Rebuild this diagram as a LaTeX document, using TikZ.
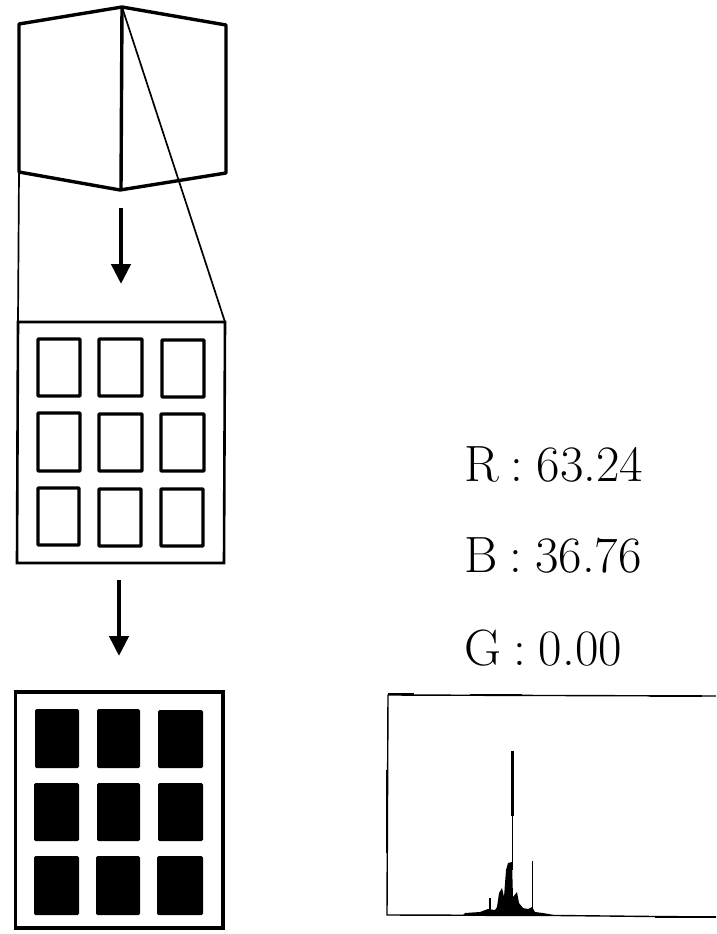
\documentclass[tikz,border=0pt]{standalone}
\usepackage{fontspec}
\usetikzlibrary{arrows.meta}
\tikzset{
  x=1pt,y=-1pt,
  heavy/.style={draw=black,line width=3.4pt,line join=round},
  thin edge/.style={draw=black,line width=1.7pt},
  frame/.style={draw=black,line width=2.6pt},
  cell/.style={draw=black,line width=3.4pt,rounded corners=0.8pt},
  solid cell/.style={fill=black,rounded corners=1.5pt},
  flow/.style={draw=black,line width=4.6pt,-{Triangle[length=20pt,width=19pt]}},
  readout/.style={anchor=base west,inner sep=0pt,font=\fontsize{51}{51}\selectfont},
  hist line/.style={draw=black,line width=1.4pt},
}
\newcommand{\readoutsep}{\hspace{12pt}:\hspace{13pt}}
\begin{document}
\begin{tikzpicture}
\useasboundingbox (0,0) rectangle (716,934);
\fill[white] (0,0) rectangle (716,934);
% block
\coordinate (apex) at (122,7);
\coordinate (base) at (120,190);
\coordinate (bl) at (19,172);
\coordinate (tr) at (225,322);
\coordinate (tl) at (18,322);
\draw[heavy] (apex) -- (19,24) -- (bl) -- (base) -- (226,173) -- (226,25) -- cycle;
\draw[heavy] (apex) -- (121,190);
\draw[thin edge] (apex) -- (tr);
\draw[thin edge] (bl) -- (tl);
\coordinate (a1s) at (121,208);
\coordinate (a1e) at (121,284);
\draw[flow] (a1s) -- (a1e);
% outlined grid
\draw[frame] (tl) -- (tr) -- (224,563) -- (17,563) -- cycle;
\draw[cell] (38,339) rectangle (80,396);
\draw[cell] (99,339) rectangle (142,396);
\draw[cell] (162,340) rectangle (204,397);
\draw[cell] (38,413) rectangle (80,471);
\draw[cell] (99,414) rectangle (142,471);
\draw[cell] (161,414) rectangle (204,471);
\draw[cell] (38,488) rectangle (79,545);
\draw[cell] (99,489) rectangle (141,546);
\draw[cell] (161,489) rectangle (203,546);
\coordinate (a2s) at (119,580);
\coordinate (a2e) at (119,656);
\draw[flow] (a2s) -- (a2e);
% filled grid
\draw[black,line width=3.2pt] (15.5,692) rectangle (223,928);
\fill[solid cell] (35,709) rectangle (79,768);
\fill[solid cell] (97,709) rectangle (140,768);
\fill[solid cell] (158,710) rectangle (203,768);
\fill[solid cell] (34,783) rectangle (79,841);
\fill[solid cell] (97,783) rectangle (140,841);
\fill[solid cell] (158,783) rectangle (203,841);
\fill[solid cell] (34,856) rectangle (79,915);
\fill[solid cell] (96,856) rectangle (140,915);
\fill[solid cell] (157,856) rectangle (203,915);
% readouts
\node[readout] (r) at (464,481) {R\readoutsep 63.24};
\node[readout] (b) at (464,572) {B\readoutsep 36.76};
\node[readout] (g) at (464,665) {G\readoutsep 0.00};
% histogram
\draw[hist line] (716,696) -- (388,695) -- (387,915) -- (557,915.5) -- (655,916.5) -- (716,917);
\draw[black,line width=2.4pt] (386.8,770) -- (386.8,853);
\draw[black,line width=2.2pt] (388,694) -- (414,694);
\draw[black,line width=2.2pt] (470,695) -- (522,695);
\draw[black,line width=2.2pt] (650,696) -- (702,696);
\draw[black,line width=1.8pt] (655,917) -- (716,917);
\fill[black] (433,915.5) -- (463,915) -- (465,913) -- (480,912) -- (488,909) -- (495,910) -- (497,907) -- (499,893) -- (502,888) -- (504,897) -- (506,870) -- (508,863) -- (512,862) -- (513,897) -- (517,892) -- (519,903) -- (523,908) -- (528,909) -- (532,907) -- (535,912) -- (543,913) -- (557,915.5) -- cycle;
\fill[black] (511.3,751) rectangle (514.2,816);
\draw[black,line width=1.2pt] (512.7,815) -- (512.7,870);
\draw[black,line width=1.2pt] (532.7,861) -- (532.7,912);
\draw[black,line width=1.2pt] (490,898) -- (490,912);
\end{tikzpicture}
\end{document}
